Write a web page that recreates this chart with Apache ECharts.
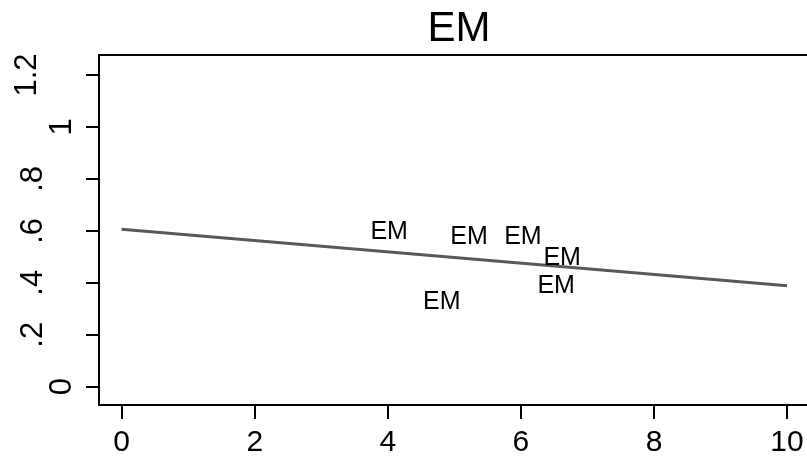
<!DOCTYPE html>
<html><head><meta charset="utf-8">
<script src="https://cdn.jsdelivr.net/npm/echarts/dist/echarts.min.js"></script>
<style>html,body{margin:0;padding:0;background:#fff}#c{width:807px;height:456px}</style>
</head><body><div id="c"></div>
<script>
const titleText = 'EM';
const xTicks = [0, 2, 4, 6, 8, 10];
const yTicks = [0, 0.2, 0.4, 0.6, 0.8, 1, 1.2];
const yTickLabels = ['0', '.2', '.4', '.6', '.8', '1', '1.2'];
const pointX = [4.02, 5.22, 6.03, 6.62, 6.53, 4.81];
const pointY = [0.594, 0.574, 0.574, 0.494, 0.388, 0.324];
const pointLabels = ['EM', 'EM', 'EM', 'EM', 'EM', 'EM'];
const fitX = [0, 10];
const fitY = [0.606, 0.389];

const FONT = '"Liberation Sans", Arial, Helvetica, sans-serif';
const chart = echarts.init(document.getElementById('c'), null, {renderer: 'canvas'});

function yLabelFmt(v) {
  let idx = 0, best = Infinity;
  yTicks.forEach((t, i) => { const d = Math.abs(t - v); if (d < best) { best = d; idx = i; } });
  const s = yTickLabels[idx];
  if (s.length === 1) return '{n|' + s + '}';
  if (s.length === 2) return '{d|' + s + '}';
  return '{w|' + s + '}';
}

const option = {
  backgroundColor: '#fff',
  animation: false,
  title: {
    text: titleText, left: 454, top: 3, textAlign: 'center',
    textStyle: {fontFamily: FONT, fontSize: 42, fontWeight: 'normal', color: '#000'}
  },
  grid: {
    show: true, left: 99, right: -3, top: 55, bottom: 51,
    borderColor: '#000', borderWidth: 2, backgroundColor: '#fff',
    containLabel: false, outerBoundsMode: 'none'
  },
  xAxis: {
    type: 'value', min: -0.341, max: 10.345,
    axisLine: {show: true, onZero: false, lineStyle: {color: '#000', width: 2}},
    axisTick: {show: true, length: 14, lineStyle: {color: '#000', width: 2}, customValues: xTicks},
    axisLabel: {
      show: true, customValues: xTicks, margin: 23, hideOverlap: false,
      fontFamily: FONT, fontSize: 30, color: '#000',
      formatter: v => String(Math.round(v))
    },
    splitLine: {show: false}
  },
  yAxis: {
    type: 'value', min: -0.0705, max: 1.277,
    axisLine: {show: true, onZero: false, lineStyle: {color: '#000', width: 2}},
    axisTick: {show: true, length: 13, lineStyle: {color: '#000', width: 2}, customValues: yTicks},
    axisLabel: {
      show: true, customValues: yTicks, rotate: 90, margin: 21, hideOverlap: false,
      fontFamily: FONT, fontSize: 31, color: '#000',
      formatter: yLabelFmt,
      rich: {
        n: {fontFamily: FONT, fontSize: 31, color: '#000', padding: [0, 0, 0, 0]},
        d: {fontFamily: FONT, fontSize: 31, color: '#000', padding: [0, 0, 29, 0]},
        w: {fontFamily: FONT, fontSize: 31, color: '#000', padding: [0, 0, 35, 0]}
      }
    },
    splitLine: {show: false}
  },
  series: [
    {
      type: 'line', data: fitX.map((x, i) => [x, fitY[i]]),
      symbol: 'none', lineStyle: {color: '#595959', width: 3}, z: 2
    },
    {
      type: 'scatter', data: pointX.map((x, i) => [x, pointY[i]]),
      symbolSize: 0, z: 3, itemStyle: {opacity: 1},
      label: {
        show: true, position: 'inside', opacity: 1,
        formatter: p => pointLabels[p.dataIndex],
        fontFamily: FONT, fontSize: 25, color: '#000', textBorderWidth: 0
      }
    }
  ]
};
chart.setOption(option);
</script>
</body></html>
